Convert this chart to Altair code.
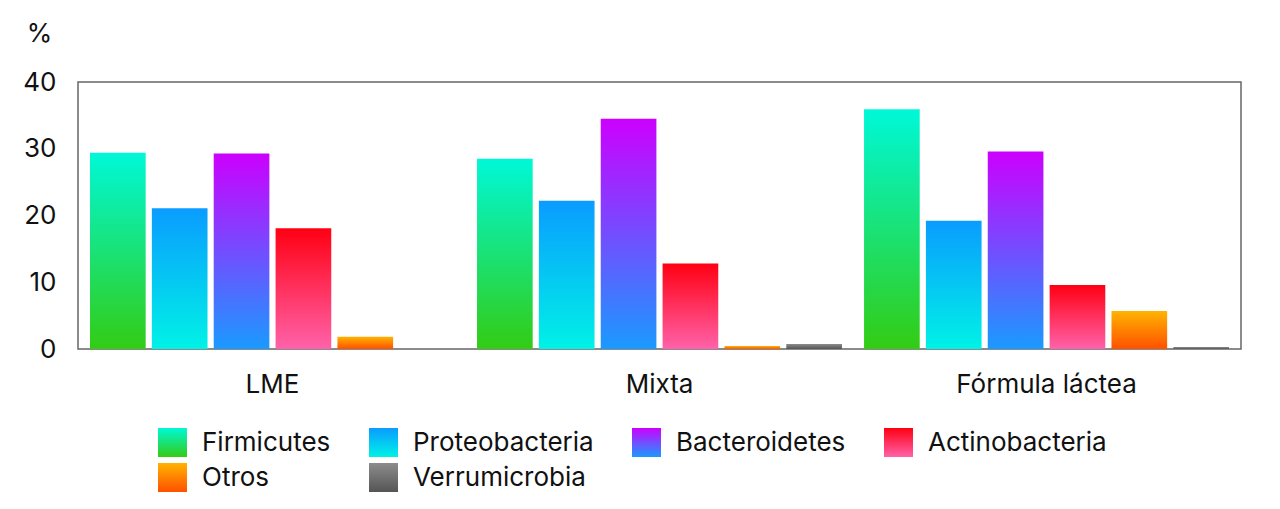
import altair as alt
import pandas as pd

groups = ["LME", "Mixta", "Fórmula láctea"]
series = ["Firmicutes", "Proteobacteria", "Bacteroidetes", "Actinobacteria", "Otros", "Verrumicrobia"]

firmicutes = [29.4, 28.5, 35.9]
proteobacteria = [21.1, 22.2, 19.2]
bacteroidetes = [29.3, 34.5, 29.6]
actinobacteria = [18.1, 12.8, 9.6]
otros = [1.85, 0.45, 5.7]
verrumicrobia = [0.0, 0.75, 0.3]

top_colors = ["#00f8d8", "#0a9cff", "#cc00ff", "#ff0012", "#ffb400", "#8c8c8c"]
bottom_colors = ["#33cc14", "#00f2e6", "#1a9aff", "#ff62aa", "#ff5000", "#555555"]

rows = []
for s, vals in zip(series, [firmicutes, proteobacteria, bacteroidetes, actinobacteria, otros, verrumicrobia]):
    for g, v in zip(groups, vals):
        rows.append({"grupo": g, "serie": s, "valor": v})
df = pd.DataFrame(rows)


def grad(top, bottom):
    return alt.LinearGradient(
        gradient="linear", x1=0, y1=0, x2=0, y2=1,
        stops=[alt.GradientStop(offset=0, color=top), alt.GradientStop(offset=1, color=bottom)],
    )


def grad_expr(top, bottom):
    return ("{gradient: 'linear', x1: 0, y1: 0, x2: 0, y2: 1, stops: [{offset: 0, color: '%s'}, {offset: 1, color: '%s'}]}"
            % (top, bottom))


legend_fill = "".join(
    "datum.value === '%s' ? %s : " % (s, grad_expr(t, b)) for s, t, b in zip(series, top_colors, bottom_colors)
) + "'#888888'"

FS = 26

x = alt.X(
    "grupo:N", sort=groups,
    scale=alt.Scale(paddingInner=0.057, paddingOuter=0.031),
    axis=alt.Axis(title=None, labelAngle=0, labelFontSize=FS, labelPadding=22, labelLimit=0,
                  domain=False, ticks=False, labelColor="#111111"),
)
xo = alt.XOffset("serie:N", sort=series, scale=alt.Scale(domain=series, paddingInner=0.1, paddingOuter=0))
y = alt.Y(
    "valor:Q", scale=alt.Scale(domain=[0, 40], nice=False),
    axis=alt.Axis(values=[0, 10, 20, 30, 40], title="%", titleAngle=0, titleFontSize=FS,
                  titleFontWeight="normal", titleX=-39, titleY=-49, titleAlign="center",
                  titleBaseline="middle", titleColor="#111111", labelFontSize=FS, labelPadding=22,
                  labelColor="#111111", domain=False, ticks=False, grid=False),
)

base = alt.Chart(df)
layers = []
for s, t, b in zip(series, top_colors, bottom_colors):
    layers.append(
        base.transform_filter(alt.datum.serie == s)
        .mark_bar(color=grad(t, b))
        .encode(x=x, xOffset=xo, y=y)
    )

legend_layer = base.transform_filter("false").mark_point(
    filled=True, opacity=1, color=alt.ExprRef(expr=legend_fill)
).encode(
    x=x, xOffset=xo, y=y,
    shape=alt.Shape(
        "serie:N",
        scale=alt.Scale(domain=series, range=["square"] * len(series)),
        legend=alt.Legend(
            title=None, orient="none", legendX=80, legendY=346, columns=4, direction="horizontal",
            symbolType="square", symbolSize=841, symbolStrokeWidth=0, symbolOpacity=1,
            labelFontSize=FS, labelOffset=15, labelColor="#111111", labelLimit=0,
            columnPadding=38, rowPadding=6, padding=0,
        ),
    ),
)

chart = (
    alt.layer(*layers, legend_layer)
    .properties(
        width=1163, height=267,
        autosize=alt.AutoSizeParams(type="none"),
        padding={"left": 70, "top": 74, "right": 30, "bottom": 150},
    )
    .configure(font="Inter")
    .configure_view(stroke="#666666", strokeWidth=1.5)
)

chart.save("out.html", embed_options={"renderer": "svg", "actions": False})
